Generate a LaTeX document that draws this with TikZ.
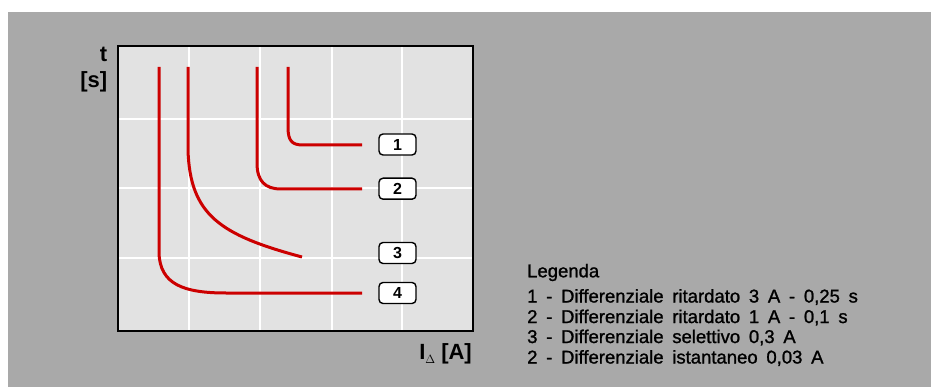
\documentclass[tikz,border=0pt]{standalone}
\usepackage{fontspec}
\setmainfont{Liberation Sans}
\newfontfamily\legfont[FakeBold=1.2, WordSpace=1.7]{Liberation Sans}
\definecolor{bggray}{RGB}{169,169,169}
\definecolor{plotgray}{RGB}{226,226,226}
\definecolor{curvered}{RGB}{204,0,0}
\tikzset{
  curve/.style={draw=curvered, line width=3pt, line join=round},
  gridline/.style={draw=white, line width=1.5pt},
  tag/.style={draw=black, fill=white, line width=1.4pt, rounded corners=4pt,
     minimum width=37pt, minimum height=21pt, inner sep=0pt, font=\fontsize{16}{16}\selectfont\bfseries},
  axislab/.style={font=\fontsize{22}{24}\selectfont\bfseries, inner sep=0pt},
  legline/.style={font=\legfont\fontsize{18.5}{20}\selectfont, inner sep=0pt, anchor=west}
}
\begin{document}
\begin{tikzpicture}[x=1pt,y=-1pt]
\useasboundingbox (0,0) rectangle (931,387);
\fill[white] (0,0) rectangle (931,387);
\fill[bggray] (8,12) rectangle (931,387);
% plot area
\fill[plotgray] (118,46) rectangle (473,331);
\foreach \x in {189,260,332,402} \draw[gridline] (\x,47) -- (\x,330);
\foreach \y in {119,188,258} \draw[gridline] (119,\y) -- (472,\y);
\draw[black, line width=1.5pt] (118,46) rectangle (473,331);
% curves
\draw[curve] (288,67) -- (288,127) .. controls (288,141) and (292,145) .. (303,145) -- (362,145);
\draw[curve] (257,67) -- (257,163) .. controls (257,181) and (265,189) .. (281,189) -- (362,189);
\draw[curve] (188,67) -- (188,150) .. controls (190,215) and (220,235) .. (302,257);
\draw[curve] (159,67) -- (159,253) .. controls (160,284) and (183,293) .. (226,293) -- (362,293);
% tags
\node[tag] (l1) at (397.5,144.5) {1};
\node[tag] (l2) at (397.5,188.7) {2};
\node[tag] (l3) at (397.5,253) {3};
\node[tag] (l4) at (397.5,293) {4};
% axis labels
\node[axislab, anchor=east] (tlab) at (107.5,54) {t};
\node[axislab, anchor=east] (slab) at (107.5,82) {[s]};
\node[axislab, anchor=east] (ilab) at (472,354) {I\raisebox{-0.3ex}{\fontsize{13}{13}\selectfont$\Delta$} [A]};
% legend
\node[legline] (lg0) at (527,272.5) {Legenda};
\node[legline] (lg1) at (527,297) {1 - Differenziale ritardato 3 A - 0,25 s};
\node[legline] (lg2) at (527,317.5) {2 - Differenziale ritardato 1 A - 0,1 s};
\node[legline] (lg3) at (527,337.5) {3 - Differenziale selettivo 0,3 A};
\node[legline] (lg4) at (527,358) {2 - Differenziale istantaneo 0,03 A};
\end{tikzpicture}
\end{document}
